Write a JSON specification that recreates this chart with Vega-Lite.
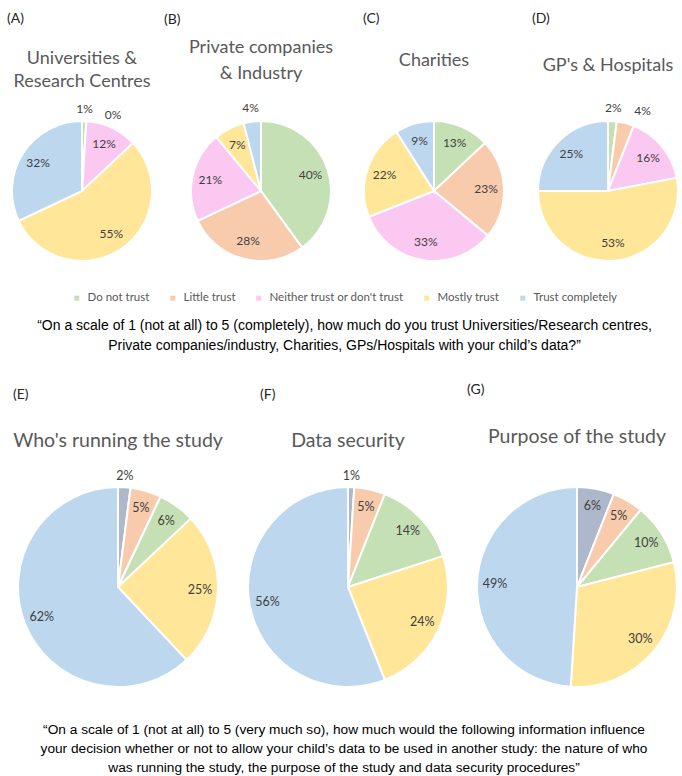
{
  "$schema": "https://vega.github.io/schema/vega-lite/v6.json",
  "background": "white",
  "padding": {"left": 7, "top": 12, "right": 0, "bottom": 0},
  "data": {"values": [
    {"chart": "A", "cat": "Do not trust", "k": 1, "pct": 1},
    {"chart": "A", "cat": "Little trust", "k": 2, "pct": 0},
    {"chart": "A", "cat": "Neither trust or don't trust", "k": 3, "pct": 12},
    {"chart": "A", "cat": "Mostly trust", "k": 4, "pct": 55},
    {"chart": "A", "cat": "Trust completely", "k": 5, "pct": 32},
    {"chart": "B", "cat": "Do not trust", "k": 1, "pct": 40},
    {"chart": "B", "cat": "Little trust", "k": 2, "pct": 28},
    {"chart": "B", "cat": "Neither trust or don't trust", "k": 3, "pct": 21},
    {"chart": "B", "cat": "Mostly trust", "k": 4, "pct": 7},
    {"chart": "B", "cat": "Trust completely", "k": 5, "pct": 4},
    {"chart": "C", "cat": "Do not trust", "k": 1, "pct": 13},
    {"chart": "C", "cat": "Little trust", "k": 2, "pct": 23},
    {"chart": "C", "cat": "Neither trust or don't trust", "k": 3, "pct": 33},
    {"chart": "C", "cat": "Mostly trust", "k": 4, "pct": 22},
    {"chart": "C", "cat": "Trust completely", "k": 5, "pct": 9},
    {"chart": "D", "cat": "Do not trust", "k": 1, "pct": 2},
    {"chart": "D", "cat": "Little trust", "k": 2, "pct": 4},
    {"chart": "D", "cat": "Neither trust or don't trust", "k": 3, "pct": 16},
    {"chart": "D", "cat": "Mostly trust", "k": 4, "pct": 53},
    {"chart": "D", "cat": "Trust completely", "k": 5, "pct": 25},
    {"chart": "E", "cat": "1 (not at all)", "k": 1, "pct": 2},
    {"chart": "E", "cat": "2", "k": 2, "pct": 5},
    {"chart": "E", "cat": "3", "k": 3, "pct": 6},
    {"chart": "E", "cat": "4", "k": 4, "pct": 25},
    {"chart": "E", "cat": "5 (very much so)", "k": 5, "pct": 62},
    {"chart": "F", "cat": "1 (not at all)", "k": 1, "pct": 1},
    {"chart": "F", "cat": "2", "k": 2, "pct": 5},
    {"chart": "F", "cat": "3", "k": 3, "pct": 14},
    {"chart": "F", "cat": "4", "k": 4, "pct": 24},
    {"chart": "F", "cat": "5 (very much so)", "k": 5, "pct": 56},
    {"chart": "G", "cat": "1 (not at all)", "k": 1, "pct": 6},
    {"chart": "G", "cat": "2", "k": 2, "pct": 5},
    {"chart": "G", "cat": "3", "k": 3, "pct": 10},
    {"chart": "G", "cat": "4", "k": 4, "pct": 30},
    {"chart": "G", "cat": "5 (very much so)", "k": 5, "pct": 49}
  ]},
  "config": {
    "view": {"stroke": null},
    "font": "Lato",
    "title": {"font": "Lato", "fontWeight": "normal", "color": "#595959", "fontSize": 18, "lineHeight": 23},
    "text": {"font": "Lato", "fontSize": 12, "color": "#404040"},
    "legend": {"layout": {"bottom": {"anchor": "middle"}}}
  },
  "resolve": {"scale": {"color": "independent"}, "legend": {"color": "independent"}},
  "spacing": 29,
  "vconcat": [
    {
      "title": {"text": ["“On a scale of 1 (not at all) to 5 (completely), how much do you trust Universities/Research centres,", "Private companies/industry, Charities, GPs/Hospitals with your child’s data?”"], "orient": "bottom", "anchor": "middle", "font": "Liberation Sans", "fontSize": 14, "color": "#000000", "lineHeight": 20, "offset": 15},
      "spacing": 7,
      "hconcat": [
        {
          "title": {"text": "(A)", "anchor": "start", "dx": 0, "offset": 24, "fontSize": 14, "color": "#262626"},
          "hconcat": [{
            "width": 150, "height": 140,
            "title": {"text": ["Universities &", "Research Centres"], "offset": 12},
            "transform": [{"filter": "datum.chart === 'A'"}, {"calculate": "datum.pct + '%'", "as": "label"}],
            "encoding": {
              "theta": {"field": "pct", "type": "quantitative", "stack": true},
              "order": {"field": "k", "type": "quantitative"},
              "color": {"field": "cat", "type": "nominal", "scale": {"domain": ["Do not trust", "Little trust", "Neither trust or don't trust", "Mostly trust", "Trust completely"], "range": ["#C5E0B4", "#F8CBAD", "#FBC8F2", "#FFE699", "#BDD7EE"]}, "legend": {"orient": "bottom", "direction": "horizontal", "title": null, "symbolType": "square", "symbolSize": 25, "symbolStrokeWidth": 0, "labelFont": "Lato", "labelFontSize": 11.5, "labelColor": "#595959", "columnPadding": 17, "offset": 27, "labelOffset": 5}}
            },
            "layer": [
              {"mark": {"type": "arc", "outerRadius": 70, "stroke": "white", "strokeWidth": 2}},
              {"mark": {"type": "text", "radius": {"expr": "datum.pct < 5 ? 82 : 52"}, "dx": {"expr": "datum.pct == 0 ? 26 : 0"}, "dy": {"expr": "datum.pct == 0 ? 6 : 0"}}, "encoding": {"text": {"field": "label"}, "color": {"value": "#404040"}}}
            ]
          }]
        },
        {
          "title": {"text": "(B)", "anchor": "start", "dx": -22, "offset": 12, "fontSize": 14, "color": "#262626"},
          "hconcat": [{
            "width": 150, "height": 140,
            "title": {"text": ["Private companies", "& Industry"], "offset": 19, "lineHeight": 26},
            "transform": [{"filter": "datum.chart === 'B'"}, {"calculate": "datum.pct + '%'", "as": "label"}],
            "encoding": {
              "theta": {"field": "pct", "type": "quantitative", "stack": true},
              "order": {"field": "k", "type": "quantitative"},
              "color": {"field": "cat", "type": "nominal", "scale": {"domain": ["Do not trust", "Little trust", "Neither trust or don't trust", "Mostly trust", "Trust completely"], "range": ["#C5E0B4", "#F8CBAD", "#FBC8F2", "#FFE699", "#BDD7EE"]}, "legend": {"orient": "bottom", "direction": "horizontal", "title": null, "symbolType": "square", "symbolSize": 25, "symbolStrokeWidth": 0, "labelFont": "Lato", "labelFontSize": 11.5, "labelColor": "#595959", "columnPadding": 17, "offset": 27, "labelOffset": 5}}
            },
            "layer": [
              {"mark": {"type": "arc", "outerRadius": 70, "stroke": "white", "strokeWidth": 2}},
              {"mark": {"type": "text", "radius": {"expr": "datum.pct < 5 ? 84 : 52"}}, "encoding": {"text": {"field": "label"}, "color": {"value": "#404040"}}}
            ]
          }]
        },
        {
          "title": {"text": "(C)", "anchor": "start", "dx": 20, "offset": 26, "fontSize": 14, "color": "#262626"},
          "hconcat": [{
            "width": 182, "height": 140,
            "title": {"text": "Charities", "offset": 47},
            "transform": [{"filter": "datum.chart === 'C'"}, {"calculate": "datum.pct + '%'", "as": "label"}],
            "encoding": {
              "theta": {"field": "pct", "type": "quantitative", "stack": true},
              "order": {"field": "k", "type": "quantitative"},
              "color": {"field": "cat", "type": "nominal", "scale": {"domain": ["Do not trust", "Little trust", "Neither trust or don't trust", "Mostly trust", "Trust completely"], "range": ["#C5E0B4", "#F8CBAD", "#FBC8F2", "#FFE699", "#BDD7EE"]}, "legend": {"orient": "bottom", "direction": "horizontal", "title": null, "symbolType": "square", "symbolSize": 25, "symbolStrokeWidth": 0, "labelFont": "Lato", "labelFontSize": 11.5, "labelColor": "#595959", "columnPadding": 17, "offset": 27, "labelOffset": 5}}
            },
            "layer": [
              {"mark": {"type": "arc", "outerRadius": 70, "stroke": "white", "strokeWidth": 2}},
              {"mark": {"type": "text", "radius": 52}, "encoding": {"text": {"field": "label"}, "color": {"value": "#404040"}}}
            ]
          }]
        },
        {
          "title": {"text": "(D)", "anchor": "start", "dx": -2, "offset": 31, "fontSize": 14, "color": "#262626"},
          "hconcat": [{
            "width": 148, "height": 140,
            "title": {"text": "GP's & Hospitals", "offset": 27},
            "transform": [{"filter": "datum.chart === 'D'"}, {"calculate": "datum.pct + '%'", "as": "label"}],
            "encoding": {
              "theta": {"field": "pct", "type": "quantitative", "stack": true},
              "order": {"field": "k", "type": "quantitative"},
              "color": {"field": "cat", "type": "nominal", "scale": {"domain": ["Do not trust", "Little trust", "Neither trust or don't trust", "Mostly trust", "Trust completely"], "range": ["#C5E0B4", "#F8CBAD", "#FBC8F2", "#FFE699", "#BDD7EE"]}, "legend": {"orient": "bottom", "direction": "horizontal", "title": null, "symbolType": "square", "symbolSize": 25, "symbolStrokeWidth": 0, "labelFont": "Lato", "labelFontSize": 11.5, "labelColor": "#595959", "columnPadding": 17, "offset": 27, "labelOffset": 5}}
            },
            "layer": [
              {"mark": {"type": "arc", "outerRadius": 70, "stroke": "white", "strokeWidth": 2}},
              {"mark": {"type": "text", "radius": {"expr": "datum.pct < 5 ? 83 : 52"}, "dx": {"expr": "datum.k == 2 ? 14 : 0"}}, "encoding": {"text": {"field": "label"}, "color": {"value": "#404040"}}}
            ]
          }]
        }
      ]
    },
    {
      "title": {"text": ["“On a scale of 1 (not at all) to 5 (very much so), how much would the following information influence", "your decision whether or not to allow your child’s data to be used in another study: the nature of who", "was running the study, the purpose of the study and data security procedures”"], "orient": "bottom", "anchor": "middle", "font": "Liberation Sans", "fontSize": 13.7, "color": "#000000", "lineHeight": 19, "offset": 32},
      "spacing": 0,
      "hconcat": [
        {
          "title": {"text": "(E)", "anchor": "start", "dx": 6, "offset": 29, "fontSize": 14, "color": "#262626"},
          "hconcat": [{
            "width": 222, "height": 200,
            "title": {"text": "Who's running the study", "offset": 19, "fontSize": 19.5},
            "transform": [{"filter": "datum.chart === 'E'"}, {"calculate": "datum.pct + '%'", "as": "label"}],
            "encoding": {
              "theta": {"field": "pct", "type": "quantitative", "stack": true},
              "order": {"field": "k", "type": "quantitative"},
              "color": {"field": "cat", "type": "nominal", "scale": {"domain": ["1 (not at all)", "2", "3", "4", "5 (very much so)"], "range": ["#ADB9CA", "#F8CBAD", "#C5E0B4", "#FFE699", "#BDD7EE"]}, "legend": null}
            },
            "layer": [
              {"mark": {"type": "arc", "outerRadius": 100, "stroke": "white", "strokeWidth": 2}},
              {"mark": {"type": "text", "fontSize": 12.5, "radius": {"expr": "datum.pct < 5 ? 111 : 82"}}, "encoding": {"text": {"field": "label"}, "color": {"value": "#404040"}}}
            ]
          }]
        },
        {
          "title": {"text": "(F)", "anchor": "start", "dx": 31, "offset": 29, "fontSize": 14, "color": "#262626"},
          "hconcat": [{
            "width": 238, "height": 200,
            "title": {"text": "Data security", "offset": 19, "fontSize": 19.5},
            "transform": [{"filter": "datum.chart === 'F'"}, {"calculate": "datum.pct + '%'", "as": "label"}],
            "encoding": {
              "theta": {"field": "pct", "type": "quantitative", "stack": true},
              "order": {"field": "k", "type": "quantitative"},
              "color": {"field": "cat", "type": "nominal", "scale": {"domain": ["1 (not at all)", "2", "3", "4", "5 (very much so)"], "range": ["#ADB9CA", "#F8CBAD", "#C5E0B4", "#FFE699", "#BDD7EE"]}, "legend": null}
            },
            "layer": [
              {"mark": {"type": "arc", "outerRadius": 100, "stroke": "white", "strokeWidth": 2}},
              {"mark": {"type": "text", "fontSize": 12.5, "radius": {"expr": "datum.pct < 5 ? 111 : 82"}}, "encoding": {"text": {"field": "label"}, "color": {"value": "#404040"}}}
            ]
          }]
        },
        {
          "title": {"text": "(G)", "anchor": "start", "dx": -6, "offset": 30, "fontSize": 14, "color": "#262626"},
          "hconcat": [{
            "width": 194, "height": 200,
            "title": {"text": "Purpose of the study", "offset": 36, "fontSize": 19.5},
            "transform": [{"filter": "datum.chart === 'G'"}, {"calculate": "datum.pct + '%'", "as": "label"}],
            "encoding": {
              "theta": {"field": "pct", "type": "quantitative", "stack": true},
              "order": {"field": "k", "type": "quantitative"},
              "color": {"field": "cat", "type": "nominal", "scale": {"domain": ["1 (not at all)", "2", "3", "4", "5 (very much so)"], "range": ["#ADB9CA", "#F8CBAD", "#C5E0B4", "#FFE699", "#BDD7EE"]}, "legend": null}
            },
            "layer": [
              {"mark": {"type": "arc", "outerRadius": 100, "stroke": "white", "strokeWidth": 2}},
              {"mark": {"type": "text", "fontSize": 12.5, "radius": 82}, "encoding": {"text": {"field": "label"}, "color": {"value": "#404040"}}}
            ]
          }]
        }
      ]
    }
  ]
}
